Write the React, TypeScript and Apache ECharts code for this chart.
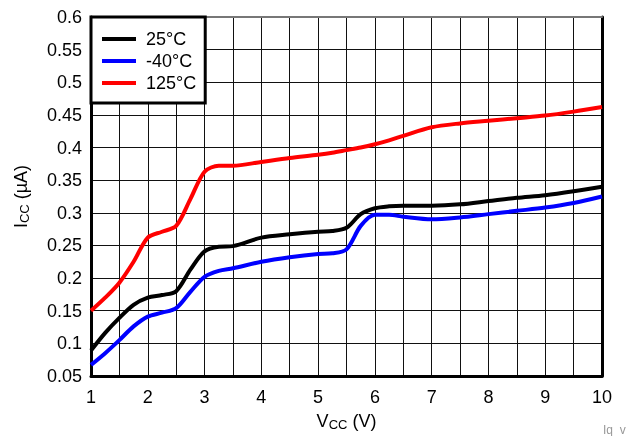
import React, { useEffect, useRef } from "react";
import * as echarts from "echarts";

const vcc = [1, 1.25, 1.5, 1.75, 2, 2.25, 2.5, 2.75, 3, 3.25, 3.5, 4, 4.5, 5, 5.25, 5.5, 5.75, 6, 6.25, 6.5, 7, 7.5, 8, 8.5, 9, 9.5, 10];
const i25 = [0.089, 0.116, 0.139, 0.159, 0.17, 0.174, 0.18, 0.213, 0.241, 0.248, 0.249, 0.262, 0.267, 0.271, 0.272, 0.277, 0.298, 0.307, 0.31, 0.311, 0.311, 0.313, 0.318, 0.323, 0.327, 0.333, 0.34];
const iM40 = [0.067, 0.085, 0.105, 0.126, 0.141, 0.147, 0.154, 0.179, 0.202, 0.211, 0.215, 0.225, 0.232, 0.237, 0.238, 0.244, 0.28, 0.297, 0.297, 0.294, 0.29, 0.293, 0.298, 0.303, 0.308, 0.315, 0.325];
const i125 = [0.15, 0.17, 0.193, 0.225, 0.262, 0.271, 0.28, 0.321, 0.363, 0.372, 0.372, 0.378, 0.384, 0.389, 0.392, 0.396, 0.4, 0.405, 0.411, 0.418, 0.431, 0.437, 0.441, 0.445, 0.449, 0.455, 0.462];
const seriesNames = ["25°C", "-40°C", "125°C"];
const seriesColors = ["#000000", "#0000ff", "#ff0000"];

const FONT = "Liberation Sans, Arial, sans-serif";
const FS = 18;

export default function App() {
  const ref = useRef<HTMLDivElement>(null);
  useEffect(() => {
    if (!ref.current) return;
    const chart = echarts.init(ref.current, undefined, { renderer: "svg" });
    const values = [i25, iM40, i125];
    const rich = {
      n: { fontSize: FS, fontFamily: FONT, color: "#000" },
      s: { fontSize: 13, fontFamily: FONT, color: "#000", padding: [7, 0, 0, 0] },
    };
    chart.setOption({
      animation: false,
      grid: { left: 91, top: 17, right: 36, bottom: 58 },
      legend: {
        left: 91,
        top: 17,
        orient: "vertical",
        backgroundColor: "#fff",
        borderColor: "#000",
        borderWidth: 3,
        borderRadius: 0,
        padding: [11, 9, 9, 11],
        itemGap: 0,
        itemWidth: 34,
        itemHeight: 4,
        icon: "rect",
        textStyle: { fontSize: FS, fontFamily: FONT, color: "#000", lineHeight: 22, padding: [0, 0, 0, 5] },
        data: seriesNames,
      },
      xAxis: [
        {
          type: "value",
          min: 1,
          max: 10,
          interval: 0.5,
          name: "{n|V}{s|CC}{n| (V)}",
          nameLocation: "middle",
          nameGap: 35,
          nameTextStyle: { rich },
          axisLine: { show: true, lineStyle: { color: "#000", width: 3 } },
          axisTick: { show: false },
          axisLabel: {
            fontSize: FS,
            fontFamily: FONT,
            color: "#000",
            margin: 12,
            formatter: (v: number) => (Number.isInteger(v) ? String(v) : ""),
          },
          splitLine: { show: true, lineStyle: { color: "#111", width: 1 } },
        },
        {
          type: "value",
          position: "top",
          min: 1,
          max: 10,
          axisLine: { show: true, lineStyle: { color: "#777", width: 2 } },
          axisTick: { show: false },
          axisLabel: { show: false },
          splitLine: { show: false },
        },
      ],
      yAxis: [
        {
          type: "value",
          min: 0.05,
          max: 0.6,
          interval: 0.05,
          name: "{n|I}{s|CC}{n| (µA)}",
          nameLocation: "middle",
          nameRotate: 90,
          nameGap: 60,
          nameTextStyle: { rich },
          axisLine: { show: true, lineStyle: { color: "#000", width: 3 } },
          axisTick: { show: false },
          axisLabel: {
            fontSize: FS,
            fontFamily: FONT,
            color: "#000",
            margin: 9,
            formatter: (v: number) => String(+v.toFixed(2)),
          },
          splitLine: { show: true, lineStyle: { color: "#111", width: 1 } },
        },
        {
          type: "value",
          position: "right",
          min: 0.05,
          max: 0.6,
          axisLine: { show: true, lineStyle: { color: "#000", width: 3 } },
          axisTick: { show: false },
          axisLabel: { show: false },
          splitLine: { show: false },
        },
      ],
      series: values.map((arr, k) => ({
        name: seriesNames[k],
        type: "line",
        data: vcc.map((x, i) => [x, arr[i]]),
        smooth: 0.3,
        showSymbol: false,
        color: seriesColors[k],
        lineStyle: { color: seriesColors[k], width: 4 },
        z: 3,
      })),
      graphic: [
        {
          type: "text",
          left: 603,
          top: 424,
          style: { text: "Iq_v", fill: "#999", fontSize: 12, fontFamily: FONT },
        },
      ],
    });
    return () => chart.dispose();
  }, []);
  return <div ref={ref} style={{ position: "fixed", left: 0, top: 0, width: 638, height: 436 }} />;
}
